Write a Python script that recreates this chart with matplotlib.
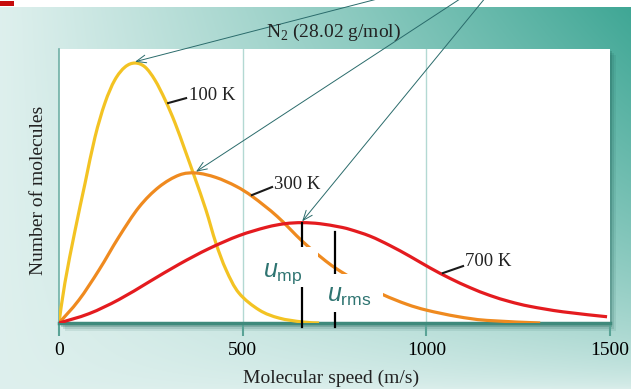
import numpy as np
import matplotlib
matplotlib.use('Agg')
import matplotlib.pyplot as plt
from matplotlib.patches import Rectangle, PathPatch
from matplotlib.path import Path

plt.rcParams['mathtext.fontset'] = 'custom'
plt.rcParams['mathtext.rm'] = 'Liberation Serif'
plt.rcParams['mathtext.it'] = 'Liberation Sans:italic'
plt.rcParams['mathtext.sf'] = 'Liberation Sans'

# ---------------- data ----------------
speed_100 = [0, 16, 44, 71, 98, 125, 152, 180, 207, 234, 261, 289, 316, 343,
             370, 400, 427, 455, 490, 545, 599, 662, 708]
count_100 = [0, 15.4, 35.8, 53.8, 71.5, 84.6, 93.5, 98.5, 100, 98.5, 93.5, 85.8,
             76.9, 66.5, 55.8, 43.5, 30.8, 20.4, 11.5, 5.0, 1.9, 0.4, 0]

speed_300 = [0, 54, 109, 163, 218, 272, 327, 373, 427, 482, 528, 594, 662, 716,
             754, 817, 882, 947, 1002, 1084, 1165, 1310]
count_300 = [0, 8.8, 20.4, 33.1, 44.6, 52.3, 56.9, 57.7, 56.0, 52.6, 48.5, 41.0,
             31.5, 25.0, 21.0, 15.6, 10.9, 7.2, 4.9, 2.5, 1.0, 0]

speed_700 = [0, 82, 163, 245, 327, 408, 490, 564, 615, 662, 710, 762, 792, 847,
             901, 956, 1010, 1064, 1119, 1173, 1228, 1282, 1372, 1492]
count_700 = [0, 3.6, 9.0, 15.8, 22.6, 28.6, 33.6, 36.8, 38.2, 38.6, 38.2, 37.0,
             36.0, 33.4, 29.8, 25.6, 21.2, 17.2, 13.6, 10.6, 8.2, 6.4, 4.3, 2.4]

curve_labels = ['100 K', '300 K', '700 K']
x_ticks = [0, 500, 1000, 1500]
u_mp_700 = 662
u_rms_700 = 751

title_text = r'N$_2$ (28.02 g/mol)'
x_label = 'Molecular speed (m/s)'
y_label = 'Number of molecules'


def smooth_path(xs, ys):
    """Cubic Bezier path passing through every read point (Catmull-Rom)."""
    p = np.column_stack([xs, ys]).astype(float)
    verts = [p[0]]
    codes = [Path.MOVETO]
    n = len(p)
    for i in range(n - 1):
        p0 = p[i - 1] if i > 0 else p[i]
        p1 = p[i]
        p2 = p[i + 1]
        p3 = p[i + 2] if i + 2 < n else p[i + 1]
        c1 = p1 + (p2 - p0) / 6.0
        c2 = p2 - (p3 - p1) / 6.0
        verts += [c1, c2, p2]
        codes += [Path.CURVE4] * 3
    return Path(verts, codes)


# ---------------- figure ----------------
W, H = 631, 389
fig = plt.figure(figsize=(W / 100, H / 100), dpi=100)

# background gradient
bg = fig.add_axes([0, 0, 1, 1], zorder=0)
yy, xx = np.mgrid[0:H, 0:W]
t = (xx / W) ** 1.1 * (1 - yy / H) ** 0.6
t = np.clip(t, 0, 1)[..., None]
light = np.array([0.87, 0.94, 0.93])
dark = np.array([0.24, 0.65, 0.58])
img = light * (1 - t) + dark * t
img[:7] = 1.0
img[1:6, 0:14] = np.array([0.78, 0.05, 0.05])
bg.imshow(img, extent=[0, W, H, 0], aspect='auto', interpolation='bilinear')
bg.set_xlim(0, W)
bg.set_ylim(H, 0)
bg.axis('off')

# plot area shadow
for k, a in [(6, 0.10), (4, 0.15), (2, 0.25)]:
    bg.add_patch(Rectangle((59 + k, 49 + k), 551, 276, color='#1d5f55',
                           alpha=a, lw=0))

ax = fig.add_axes([59 / W, 1 - 323 / H, 551 / W, 274 / H], zorder=2)
ax.set_facecolor('white')
ax.set_xlim(0, 1500)
ax.set_ylim(0, 105.4)

for v in [500, 1000]:
    ax.axvline(v, color='#b3d9d3', lw=1.0, zorder=1)

for xs, ys, col, z in [(speed_100, count_100, '#f3c323', 3),
                       (speed_300, count_300, '#ef8a1f', 3),
                       (speed_700, count_700, '#e41b1f', 4)]:
    ax.add_patch(PathPatch(smooth_path(xs, ys), facecolor='none',
                           edgecolor=col, lw=2.3, zorder=z, capstyle='butt'))

# curve labels with leader lines
label_specs = [((297, 84.6), (346, 86.5), (354, 87.7)),
               ((525, 49.2), (580, 52.3), (586, 53.1)),
               ((1045, 19.2), (1100, 21.9), (1106, 23.5))]
for lab, (p0, p1, pt) in zip(curve_labels, label_specs):
    ax.plot([p0[0], p1[0]], [p0[1], p1[1]], color='#1a1a1a', lw=1.5, zorder=5)
    ax.text(pt[0], pt[1], lab, fontsize=13.5, family='Liberation Serif',
            ha='left', va='center', color='#222222', zorder=6)

# u_mp / u_rms markers
ax.plot([u_mp_700, u_mp_700], [38.5, -1.5], color='black', lw=1.6, zorder=6,
        clip_on=False)
ax.plot([u_rms_700, u_rms_700], [35.0, -1.5], color='black', lw=1.6, zorder=6,
        clip_on=False)
ax.add_patch(Rectangle((547, 13.8), 158, 15.4, color='white', lw=0, zorder=7))
ax.add_patch(Rectangle((705, 4.2), 177, 14.6, color='white', lw=0, zorder=7))
ax.text(610, 17.8, r'$u_{\mathsf{mp}}$', fontsize=18, color='#2e7471',
        ha='center', va='baseline', zorder=8)
ax.text(790, 8.2, r'$u_{\mathsf{rms}}$', fontsize=18, color='#2e7471',
        ha='center', va='baseline', zorder=8)

# axes styling
for s in ['top', 'right']:
    ax.spines[s].set_visible(False)
ax.spines['left'].set_color('#6fb0a6')
ax.spines['left'].set_linewidth(1.2)
ax.spines['bottom'].set_color('#3f8a7c')
ax.spines['bottom'].set_linewidth(2.5)
ax.set_xticks(x_ticks)
ax.set_xticklabels([str(v) for v in x_ticks], family='Liberation Serif',
                   fontsize=14)
ax.set_yticks([])
ax.tick_params(axis='x', direction='out', length=9, width=1.5,
               color='#5aa396', pad=5)

# arrows from above pointing to peaks
peaks = [(speed_100[int(np.argmax(count_100))], max(count_100)),
         (speed_300[int(np.argmax(count_300))], max(count_300)),
         (speed_700[int(np.argmax(count_700))], max(count_700))]
starts = [(385, 392), (463, 392), (486, 392)]
for (px, py), st in zip(peaks, starts):
    ax.annotate('', xy=(px, py + 0.5), xycoords='data', xytext=st,
                textcoords='figure pixels', annotation_clip=False,
                arrowprops=dict(arrowstyle='->,head_length=0.7,head_width=0.28',
                                color='#2a6b6b', lw=0.7, shrinkA=0, shrinkB=0),
                zorder=9)

# texts
fig.text(333 / W, 1 - 32 / H, title_text, fontsize=14,
         family='Liberation Serif', ha='center', va='center', color='#222222',
         zorder=5)
fig.text(331 / W, 1 - 378 / H, x_label, fontsize=14, family='Liberation Serif',
         ha='center', va='center', color='#222222', zorder=5)
fig.text(39 / W, 1 - 190 / H, y_label, fontsize=14, family='Liberation Serif',
         ha='center', va='center', rotation=90, color='#222222', zorder=5)

fig.savefig('out.png', dpi=100)
